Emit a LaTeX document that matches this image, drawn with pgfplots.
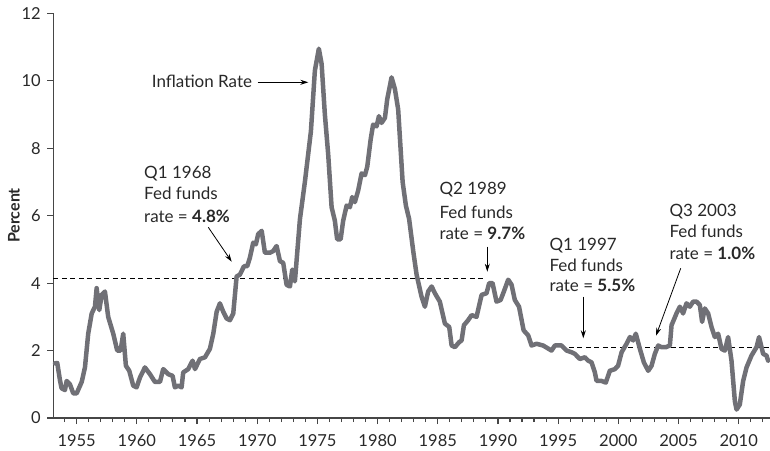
\documentclass[border=0pt]{standalone}
\usepackage{fontspec}
\setmainfont{Lato}
\usepackage{pgfplots}
\pgfplotsset{compat=1.18}
\usetikzlibrary{arrows.meta}
\definecolor{linegray}{RGB}{112,112,118}
\definecolor{axisgray}{RGB}{70,70,70}
\definecolor{txt}{RGB}{40,40,40}
\pgfplotstableread{
year val
1953.20 1.62
1953.39 1.63
1953.61 1.13
1953.75 0.88
1954.03 0.83
1954.17 1.10
1954.44 1.00
1954.72 0.73
1955.00 0.73
1955.42 1.07
1955.69 1.50
1955.96 2.50
1956.25 3.10
1956.52 3.30
1956.66 3.85
1956.88 3.20
1957.08 3.65
1957.35 3.75
1957.62 3.00
1958.04 2.50
1958.37 2.00
1958.65 2.00
1958.87 2.50
1959.09 1.55
1959.37 1.40
1959.70 0.96
1959.98 0.91
1960.26 1.20
1960.67 1.50
1961.09 1.30
1961.50 1.07
1961.92 1.07
1962.19 1.45
1962.61 1.30
1962.97 1.25
1963.16 0.91
1963.44 0.96
1963.72 0.91
1963.85 1.35
1964.27 1.45
1964.63 1.70
1964.83 1.45
1965.24 1.75
1965.66 1.80
1966.07 2.05
1966.35 2.50
1966.63 3.15
1966.90 3.40
1967.18 3.15
1967.46 2.95
1967.73 2.90
1968.01 3.10
1968.29 4.20
1968.56 4.25
1968.90 4.50
1969.17 4.50
1969.39 4.75
1969.67 5.20
1969.89 5.15
1970.08 5.45
1970.37 5.55
1970.64 4.90
1971.05 4.90
1971.33 4.95
1971.61 5.10
1971.89 4.65
1972.16 4.60
1972.44 3.95
1972.72 3.90
1972.91 4.40
1973.13 4.05
1973.55 5.90
1973.96 7.00
1974.46 8.50
1974.79 10.30
1975.12 10.95
1975.35 10.50
1975.62 9.00
1975.90 7.80
1976.18 6.25
1976.45 5.85
1976.64 5.30
1976.93 5.30
1977.14 5.85
1977.43 6.30
1977.70 6.25
1977.89 6.55
1978.11 6.40
1978.39 6.75
1978.67 7.25
1978.95 7.20
1979.14 7.45
1979.42 8.25
1979.63 8.70
1979.92 8.65
1980.11 8.95
1980.33 8.75
1980.61 8.90
1980.80 9.45
1981.16 10.10
1981.44 9.75
1981.71 9.15
1982.08 7.00
1982.35 6.30
1982.62 5.90
1982.96 4.95
1983.24 4.25
1983.65 3.60
1983.93 3.30
1984.20 3.75
1984.49 3.90
1984.76 3.70
1985.17 3.45
1985.59 2.80
1985.95 2.70
1986.15 2.15
1986.42 2.10
1986.78 2.25
1986.98 2.30
1987.17 2.75
1987.52 2.90
1987.81 3.05
1988.22 3.00
1988.64 3.65
1989.05 3.70
1989.27 4.00
1989.55 4.00
1989.88 3.45
1990.22 3.50
1990.49 3.75
1990.85 4.10
1991.13 3.95
1991.40 3.50
1991.75 3.30
1992.13 2.60
1992.51 2.45
1992.79 2.15
1993.21 2.20
1993.75 2.15
1994.45 2.00
1994.73 2.15
1995.28 2.15
1995.70 2.00
1996.11 1.95
1996.39 1.90
1996.80 1.75
1997.22 1.80
1997.49 1.70
1997.77 1.65
1998.05 1.35
1998.19 1.10
1998.60 1.10
1998.96 1.05
1999.29 1.40
1999.71 1.45
1999.98 1.55
2000.27 1.95
2000.68 2.20
2000.96 2.40
2001.23 2.30
2001.45 2.50
2001.79 2.05
2002.12 1.65
2002.48 1.40
2002.76 1.55
2003.03 1.90
2003.31 2.15
2003.59 2.10
2003.95 2.10
2004.28 2.15
2004.42 2.75
2004.83 3.10
2005.11 3.30
2005.38 3.10
2005.66 3.40
2005.94 3.30
2006.21 3.45
2006.50 3.45
2006.77 3.35
2006.96 2.85
2007.18 3.25
2007.46 3.10
2007.74 2.70
2008.02 2.40
2008.29 2.50
2008.57 2.05
2008.85 2.00
2009.12 2.40
2009.40 1.70
2009.68 0.50
2009.82 0.25
2010.09 0.40
2010.37 1.10
2010.65 1.50
2011.06 1.85
2011.48 2.10
2011.69 2.40
2012.03 1.90
2012.31 1.85
2012.44 1.70
}\inflation
\begin{document}
\fontsize{16}{19}\selectfont
\begin{tikzpicture}[x=1pt,y=1pt]
\path[use as bounding box] (0,0) rectangle (770,450);
\begin{axis}[
  at={(53.3pt,32pt)}, anchor=south west,
  scale only axis, width=716.7pt, height=404.7pt,
  xmin=1953.06, xmax=2012.6, ymin=0, ymax=12,
  axis lines*=left,
  axis line style={axisgray, line width=1.1pt},
  tick style={axisgray, line width=1.1pt},
  tick align=outside,
  xtick={1955,1960,...,2010},
  minor xtick={1953,1954,...,2012},
  major tick length=6pt, minor tick length=4pt,
  ytick={0,2,...,12},
  /pgf/number format/1000 sep={},
  /pgf/number format/assume math mode=true,
  ticklabel style={font=\fontsize{16.5}{19}\selectfont, text=txt},
  xticklabel style={yshift=-5pt},
  yticklabel style={xshift=-1pt},
  clip=false,
]
\addplot[black, line width=0.8pt, dash pattern=on 5pt off 3.5pt] coordinates {(1953.06,4.15) (1989.05,4.15)};
\addplot[black, line width=0.8pt, dash pattern=on 5pt off 3.5pt] coordinates {(1995.9,2.09) (2012.6,2.09)};
\addplot[linegray, line width=4.5pt, line join=round, line cap=round] table[x=year,y=val] {\inflation};
\end{axis}
\begin{scope}[every node/.style={inner sep=0pt, text=txt, font=\fontsize{17}{20}\selectfont}]
\node[rotate=90, anchor=center, font=\fontsize{16}{19}\selectfont\bfseries] at (14,234.5) {Percent};
\node[anchor=base west] at (151.7,362.7) {Inflation Rate};
\draw[black, line width=0.8pt, -{Stealth[length=8pt,width=5pt]}] (257.5,367.7) -- (308.3,367.7);
% Q1 1968
\node[anchor=base west] at (144,271.7) {Q1 1968};
\node[anchor=base west] at (144,250) {Fed funds};
\node[anchor=base west] at (144,227.7) {rate = \textbf{4.8\%}};
\draw[black, line width=0.8pt, -{Stealth[length=8pt,width=5pt]}] (208.3,222.7) -- (231.7,188.3);
% Q2 1989
\node[anchor=base west] at (439.3,255) {Q2 1989};
\node[anchor=base west] at (439.3,231.7) {Fed funds};
\node[anchor=base west] at (439.3,210.7) {rate = \textbf{9.7\%}};
\draw[black, line width=0.8pt, -{Stealth[length=8pt,width=5pt]}] (487.3,203.3) -- (487.3,178.3);
% Q1 1997
\node[anchor=base west] at (549.3,200) {Q1 1997};
\node[anchor=base west] at (549.3,178.3) {Fed funds};
\node[anchor=base west] at (549.3,158.3) {rate = \textbf{5.5\%}};
\draw[black, line width=0.8pt, -{Stealth[length=8pt,width=5pt]}] (583.3,153.3) -- (583.3,111.7);
% Q3 2003
\node[anchor=base west] at (669.3,233.3) {Q3 2003};
\node[anchor=base west] at (669.3,212.3) {Fed funds};
\node[anchor=base west] at (669.3,190) {rate = \textbf{1.0\%}};
\draw[black, line width=0.8pt, -{Stealth[length=8pt,width=5pt]}] (680.7,181.7) -- (656,114.3);
\end{scope}
\end{tikzpicture}
\end{document}
